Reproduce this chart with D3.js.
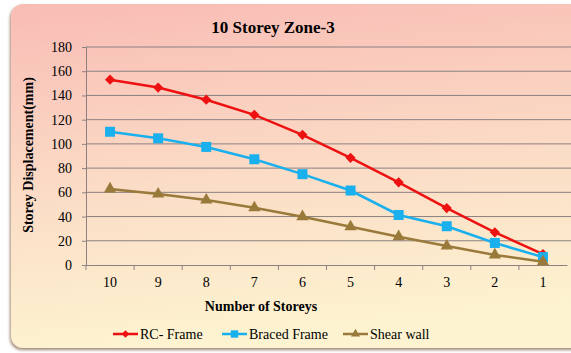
<!DOCTYPE html>
<meta charset="utf-8">
<script src="https://d3js.org/d3.v7.min.js"></script>
<style>
  body { margin: 0; background: #fff; overflow: hidden; }
  text { font-family: "Liberation Serif", "Times New Roman", serif; fill: #000; }
</style>
<body>
<div id="chart"></div>
<script>
  // data
  var storeys = ["10", "9", "8", "7", "6", "5", "4", "3", "2", "1"];
  var rcFrame = [153, 146.5, 136.5, 124, 107.5, 88.5, 68.3, 47, 27, 9];
  var bracedFrame = [110, 104.6, 97.5, 87.3, 75, 61.5, 41.3, 32, 18.2, 6.5];
  var shearWall = [62.8, 58.6, 53.7, 47.3, 39.9, 31.6, 23.4, 15.7, 8.3, 2.7];
  var yTicks = [0, 20, 40, 60, 80, 100, 120, 140, 160, 180];

  // diamonds are drawn as rotated squares, like the spreadsheet marker
  var series = [
    {name: "RC- Frame", values: rcFrame, color: "#ee1111", symbol: d3.symbolSquare, size: 52, rot: 45},
    {name: "Braced Frame", values: bracedFrame, color: "#1ab0ee", symbol: d3.symbolSquare, size: 100, rot: 0},
    {name: "Shear wall", values: shearWall, color: "#9a7a3a", symbol: d3.symbolTriangle, size: 65, rot: 0}
  ];

  var W = 571, H = 353;
  var margin = {top: 47, right: 4, bottom: 88, left: 86},
      width = W - margin.left - margin.right,
      height = H - margin.top - margin.bottom;

  var serif = '"Liberation Serif", "Times New Roman", serif';

  var root = d3.select("#chart").append("svg")
      .attr("width", W).attr("height", H);

  var defs = root.append("defs");
  var grad = defs.append("linearGradient").attr("id", "bg")
      .attr("x1", 0).attr("y1", 0).attr("x2", 0.15).attr("y2", 1);
  grad.append("stop").attr("offset", "0%").attr("stop-color", "#f9bcb5");
  grad.append("stop").attr("offset", "55%").attr("stop-color", "#fbdcc6");
  grad.append("stop").attr("offset", "100%").attr("stop-color", "#fdf3d0");

  var shadow = defs.append("filter").attr("id", "shadow")
      .attr("x", "-5%").attr("y", "-5%").attr("width", "110%").attr("height", "110%");
  shadow.append("feDropShadow").attr("dx", -1).attr("dy", 2)
      .attr("stdDeviation", 1.5).attr("flood-color", "#8a6a55").attr("flood-opacity", 0.8);

  // card background
  root.append("rect")
      .attr("x", 11).attr("y", 4).attr("width", 580).attr("height", 344)
      .attr("rx", 12).attr("ry", 12)
      .attr("fill", "url(#bg)")
      .attr("filter", "url(#shadow)");

  var svg = root.append("g")
      .attr("transform", "translate(" + margin.left + "," + margin.top + ")");

  var x = d3.scaleBand().domain(storeys).range([0, width]);
  var y = d3.scaleLinear().domain([0, 180]).range([height, 0]);

  // gridlines
  svg.append("g")
    .selectAll("line")
    .data(yTicks.filter(function(d) { return d > 0; }))
    .enter().append("line")
      .attr("x1", 0).attr("x2", width + margin.right)
      .attr("y1", function(d) { return y(d); })
      .attr("y2", function(d) { return y(d); })
      .attr("stroke", "#8c8080").attr("stroke-width", 1);

  // y axis
  var yAxis = svg.append("g")
      .call(d3.axisLeft(y).tickValues(yTicks).tickSize(4).tickPadding(10));
  yAxis.attr("font-family", serif);
  yAxis.selectAll("text").style("font-size", "14px").style("font-family", serif);
  yAxis.selectAll("line, path").attr("stroke", "#8c8080");

  // x axis
  var xAxis = svg.append("g")
      .attr("transform", "translate(0," + height + ")")
      .call(d3.axisBottom(x).tickSize(0).tickPadding(12));
  xAxis.attr("font-family", serif);
  xAxis.select(".domain").attr("stroke", "#8c8080");
  xAxis.selectAll("text").style("font-size", "14px").style("font-family", serif);
  // tick marks between categories
  svg.append("g")
    .selectAll("line")
    .data(storeys)
    .enter().append("line")
      .attr("x1", function(d) { return x(d); })
      .attr("x2", function(d) { return x(d); })
      .attr("y1", height).attr("y2", height + 5)
      .attr("stroke", "#8c8080");

  var cx = function(i) { return x(storeys[i]) + x.bandwidth() / 2; };

  series.forEach(function(s) {
    svg.append("path")
      .datum(s.values)
      .attr("fill", "none")
      .attr("stroke", s.color)
      .attr("stroke-width", 2.5)
      .attr("d", d3.line()
        .x(function(d, i) { return cx(i); })
        .y(function(d) { return y(d); }));
    svg.append("g")
      .selectAll("path")
      .data(s.values)
      .enter().append("path")
        .attr("transform", function(d, i) {
          return "translate(" + cx(i) + "," + y(d) + ") rotate(" + s.rot + ")";
        })
        .attr("d", d3.symbol().type(s.symbol).size(s.size))
        .attr("fill", s.color);
  });

  // titles
  root.append("text")
      .attr("x", 273).attr("y", 33)
      .attr("text-anchor", "middle")
      .style("font-size", "17px").style("font-weight", "bold")
      .text("10 Storey Zone-3");

  root.append("text")
      .attr("transform", "translate(33,155) rotate(-90)")
      .attr("text-anchor", "middle")
      .style("font-size", "14px").style("font-weight", "bold")
      .text("Storey Displacement(mm)");

  root.append("text")
      .attr("x", 261).attr("y", 311)
      .attr("text-anchor", "middle")
      .style("font-size", "14px").style("font-weight", "bold")
      .text("Number of Storeys");

  // legend
  var legendX = [113, 222, 343];
  var legend = root.append("g");
  series.forEach(function(s, i) {
    var g = legend.append("g").attr("transform", "translate(" + legendX[i] + ",334)");
    g.append("line").attr("x1", 0).attr("x2", 25)
      .attr("stroke", s.color).attr("stroke-width", 2.5);
    g.append("path").attr("transform", "translate(12.5,0) rotate(" + s.rot + ")")
      .attr("d", d3.symbol().type(s.symbol).size(s.size * 0.55))
      .attr("fill", s.color);
    g.append("text").attr("x", 27).attr("y", 5)
      .style("font-size", "14px")
      .text(s.name);
  });
</script>
</body>
